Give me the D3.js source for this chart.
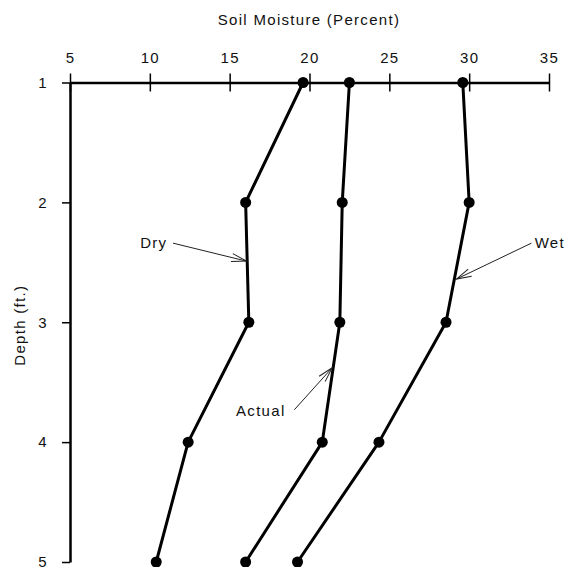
<!DOCTYPE html>
<html>
  <head>
    <meta charset="utf-8">
    <title>Soil Moisture by Depth</title>
    <style>
      body { margin: 0; background: white; }
      text {
        font-family: "Liberation Sans", Arial, sans-serif;
        font-size: 15px;
        letter-spacing: 1.3px;
        fill: #111;
      }
      .domain { stroke: black; stroke-width: 2.5px; }
      .tick line { stroke: black; stroke-width: 1.5px; }
      .series { fill: none; stroke: black; stroke-width: 3px; stroke-linejoin: round; }
      .leader { fill: none; stroke: #222; stroke-width: 1px; }
    </style>
  </head>
  <body>
    <script src="https://d3js.org/d3.v7.min.js"></script>
    <script>
      const width = 572;
      const height = 567;

      const depths = [1, 2, 3, 4, 5];
      const moistureTicks = [5, 10, 15, 20, 25, 30, 35];
      const dry = [19.6, 16.0, 16.2, 12.4, 10.4];
      const actual = [22.5, 22.05, 21.9, 20.8, 16.0];
      const wet = [29.6, 30.0, 28.55, 24.35, 19.25];

      // label, text anchor point [value, depth], arrow tip [value, depth]
      const notes = [
        { label: "Dry", anchor: "end", text: [11.1, 2.34], from: [11.45, 2.34], to: [16.05, 2.49] },
        { label: "Wet", anchor: "start", text: [34.1, 2.34], from: [33.9, 2.34], to: [29.2, 2.64] },
        { label: "Actual", anchor: "end", text: [18.5, 3.74], from: [19.05, 3.73], to: [21.42, 3.38] }
      ];

      const svg = d3.select("body")
        .append("svg")
        .attr("width", width)
        .attr("height", height);

      const x = d3.scaleLinear().domain([5, 35]).range([70, 549]);
      const y = d3.scaleLinear().domain([1, 5]).range([82.5, 562]);

      svg.append("defs").append("marker")
        .attr("id", "arrow")
        .attr("markerUnits", "userSpaceOnUse")
        .attr("viewBox", "-16 -6 18 12")
        .attr("markerWidth", 18)
        .attr("markerHeight", 12)
        .attr("refX", 0)
        .attr("refY", 0)
        .attr("orient", "auto")
        .append("path")
        .attr("d", "M-15,-4L0,0L-15,4")
        .attr("fill", "none")
        .attr("stroke", "#222")
        .attr("stroke-width", 1);

      // top x axis, ticks cross the line
      const xAxis = svg.append("g")
        .attr("transform", `translate(0,${y(1)})`)
        .call(d3.axisTop(x).tickValues(moistureTicks).tickFormat(d3.format("d"))
          .tickSizeInner(9).tickSizeOuter(0).tickPadding(11));
      xAxis.selectAll(".tick line").attr("y2", -9).attr("y1", 9);

      svg.append("g")
        .attr("transform", `translate(${x(5)},0)`)
        .call(d3.axisLeft(y).tickValues(depths).tickFormat(d3.format("d"))
          .tickSizeInner(8).tickSizeOuter(0).tickPadding(14));

      svg.selectAll(".tick text").style("font-size", "15px");

      svg.append("text")
        .attr("x", 309)
        .attr("y", 25)
        .attr("text-anchor", "middle")
        .text("Soil Moisture (Percent)");

      svg.append("text")
        .attr("transform", `translate(25,${y(3) + 3}) rotate(-90)`)
        .attr("text-anchor", "middle")
        .text("Depth (ft.)");

      const line = d3.line()
        .x(d => x(d[0]))
        .y(d => y(d[1]));

      [dry, actual, wet].forEach(series => {
        const pts = series.map((v, i) => [v, depths[i]]);
        svg.append("path")
          .attr("class", "series")
          .attr("d", line(pts));
        svg.selectAll(null)
          .data(pts)
          .enter()
          .append("circle")
          .attr("cx", d => x(d[0]))
          .attr("cy", d => y(d[1]))
          .attr("r", 5.5)
          .attr("fill", "black");
      });

      notes.forEach(n => {
        svg.append("line")
          .attr("class", "leader")
          .attr("x1", x(n.from[0]))
          .attr("y1", y(n.from[1]))
          .attr("x2", x(n.to[0]))
          .attr("y2", y(n.to[1]))
          .attr("marker-end", "url(#arrow)");
        svg.append("text")
          .attr("x", x(n.text[0]))
          .attr("y", y(n.text[1]))
          .attr("dy", "0.35em")
          .attr("text-anchor", n.anchor)
          .text(n.label);
      });
    </script>
  </body>
</html>
